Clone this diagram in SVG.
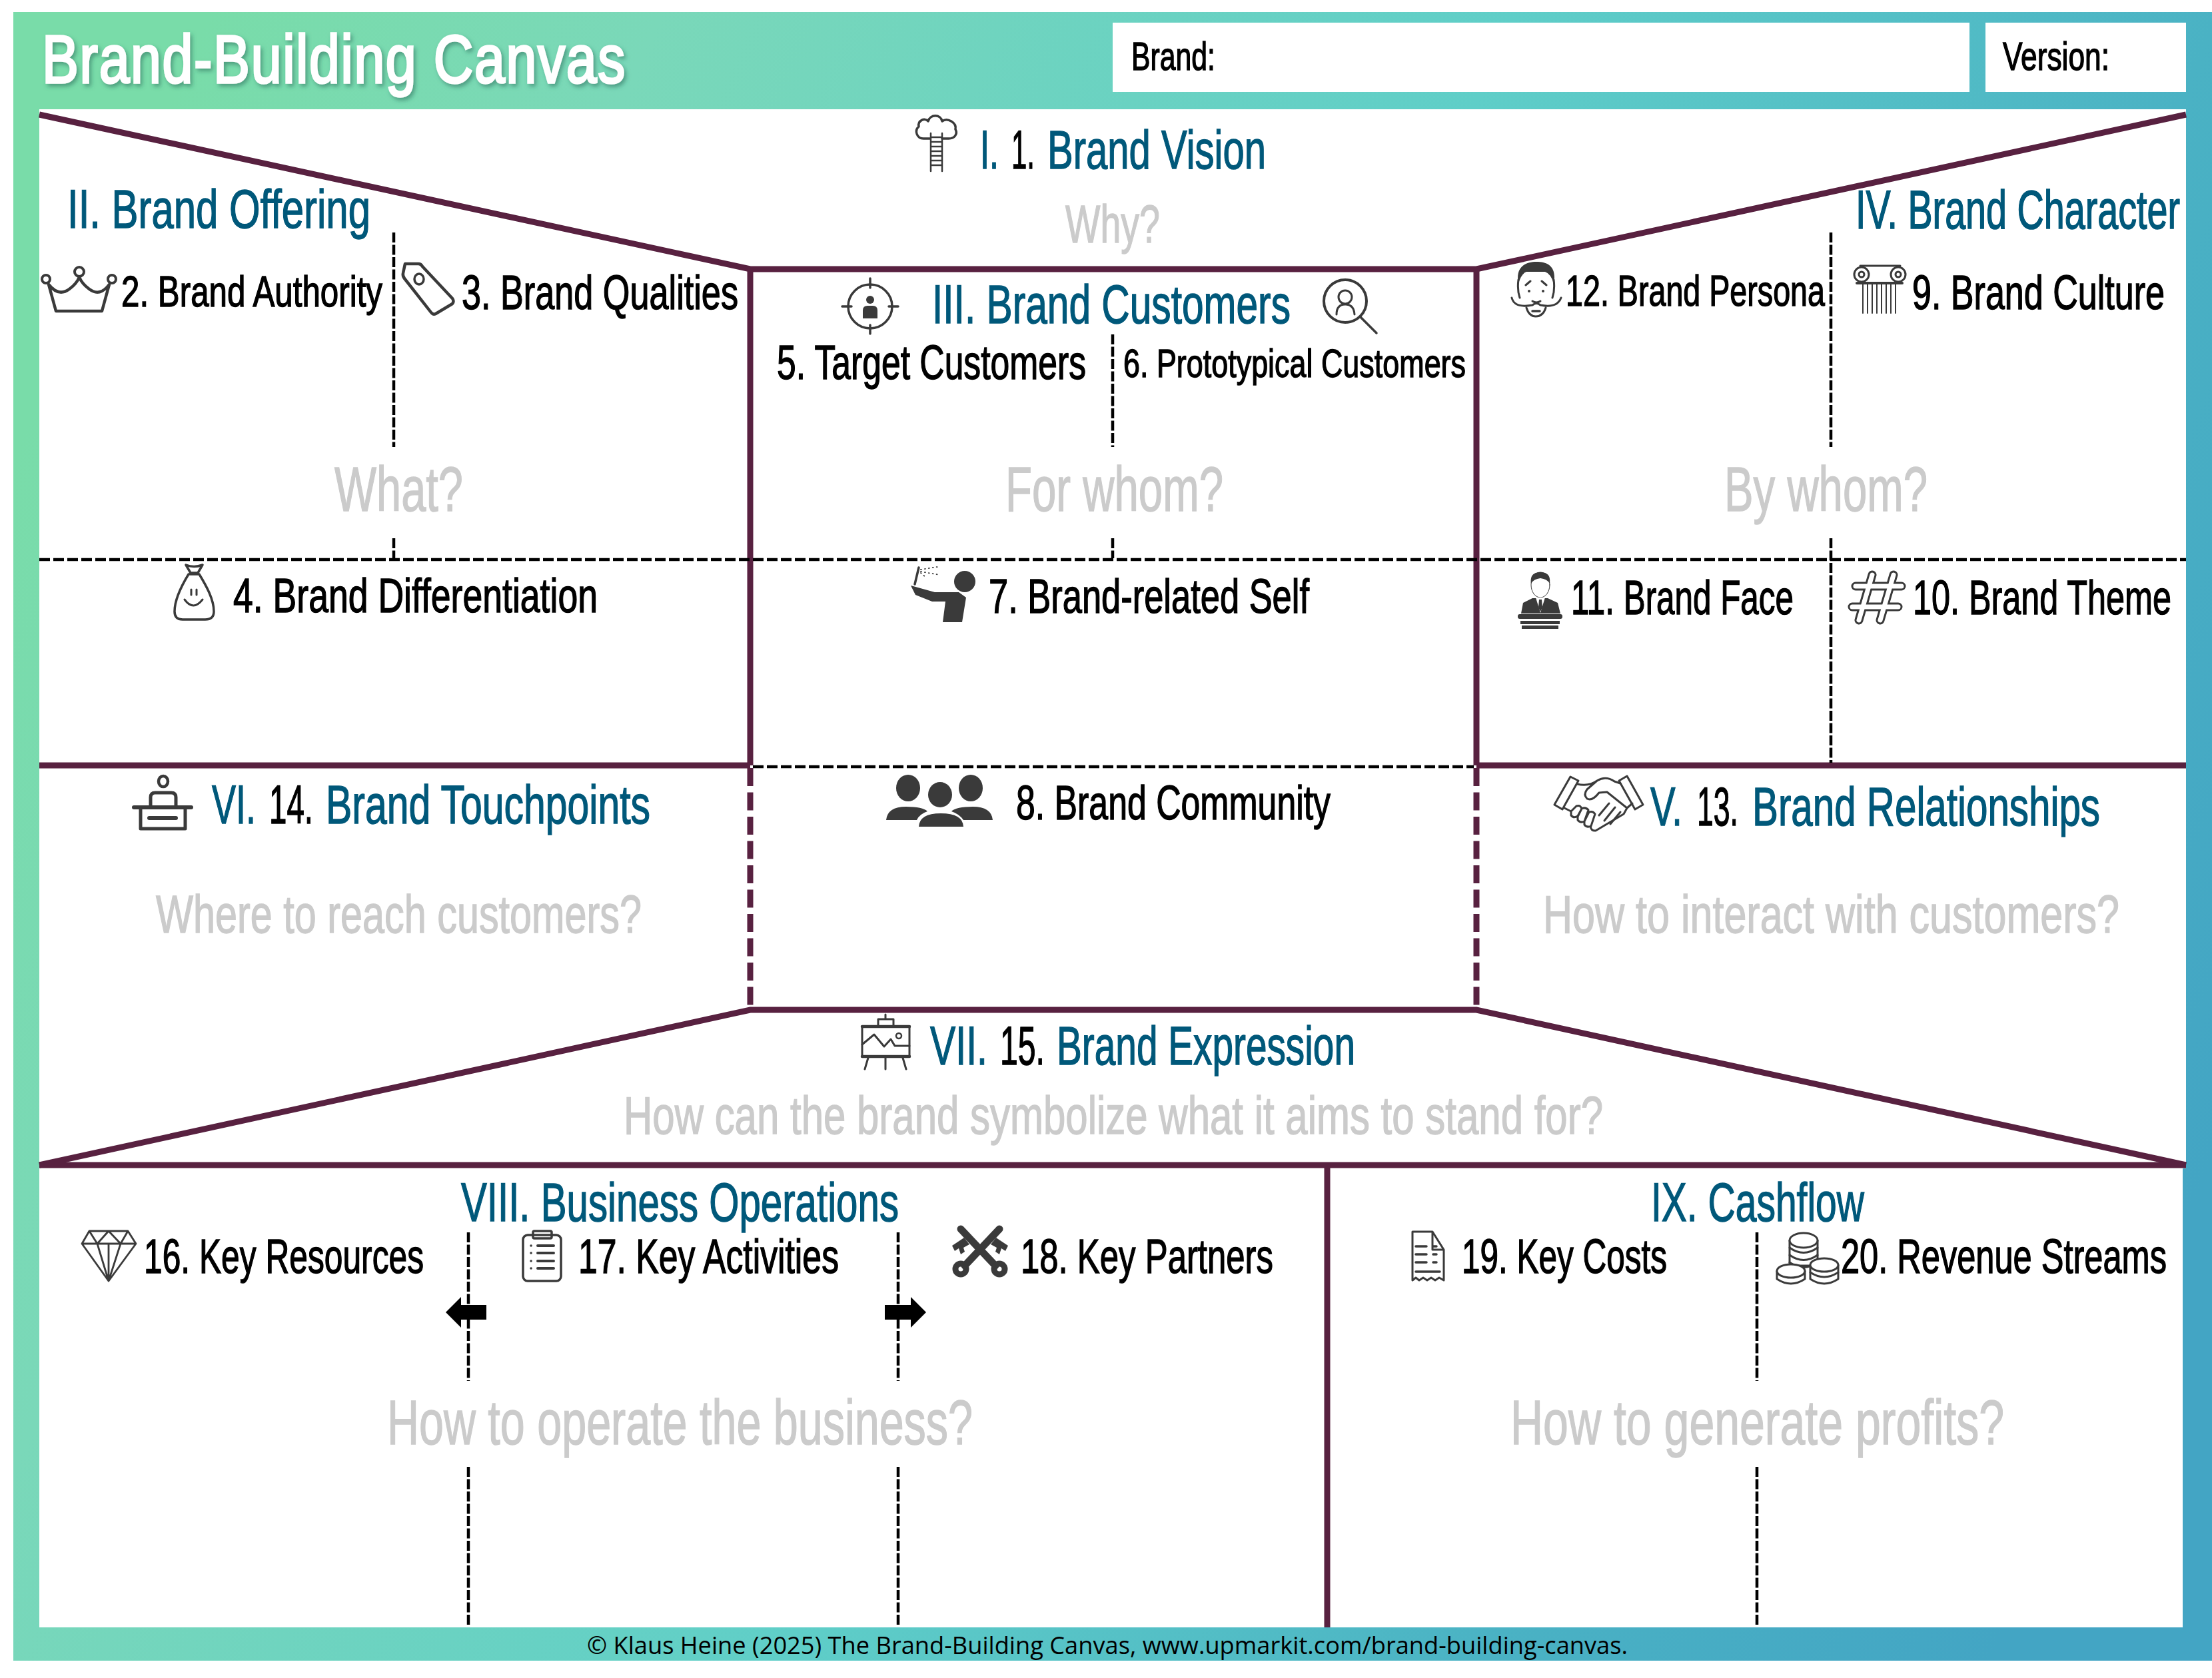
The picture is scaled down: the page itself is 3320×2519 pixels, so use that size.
<svg xmlns="http://www.w3.org/2000/svg" width="3320" height="2519" viewBox="0 0 3320 2519">
<defs>
<linearGradient id="bg" gradientUnits="userSpaceOnUse" x1="100" y1="500" x2="3250" y2="1900">
<stop offset="0" stop-color="#79dca9"/><stop offset="0.18" stop-color="#7ad8b9"/><stop offset="0.52" stop-color="#5fcec8"/><stop offset="0.8" stop-color="#4ab2c4"/><stop offset="1" stop-color="#43a5c4"/>
</linearGradient>
<filter id="shadow" x="-5%" y="-10%" width="110%" height="125%"><feDropShadow dx="3" dy="4" stdDeviation="3" flood-color="#2a6a58" flood-opacity="0.55"/></filter>
</defs>
<style>
text{font-family:"Liberation Sans Narrow","Liberation Sans",sans-serif;fill:#000;stroke:#000;stroke-width:1.1}
.h{font-size:63px;fill:#00587a;stroke:#00587a}
.k{fill:#000;stroke:#000}
.n{font-size:55px}
.s{font-size:50px}
.q{font-size:62px;fill:#cbcbcb;stroke:#cbcbcb}
.q2{font-size:73px;fill:#cbcbcb;stroke:#cbcbcb}
.t{font-size:46px}
.foot{font-family:"Open Sans",sans-serif;font-size:36px;stroke:none}
.title{font-size:102px;fill:#fff;stroke:#fff;stroke-width:3.4;letter-spacing:2px}
.p{stroke:#582140;stroke-width:9;fill:none}
.pd{stroke:#582140;stroke-width:9;fill:none;stroke-dasharray:27 9.5}
.d{stroke:#000;stroke-width:4.5;fill:none;stroke-dasharray:15 3.5}
.dh{stroke:#000;stroke-width:4.5;fill:none;stroke-dasharray:16 5}
.i{fill:none;stroke:#3a3a3a;stroke-width:3.5;stroke-linecap:round;stroke-linejoin:round}
.f{fill:#3a3a3a;stroke:none}
.w{fill:#fff;stroke:#3a3a3a;stroke-width:3;stroke-linejoin:round;stroke-linecap:round}
</style>

<g id="background">
<rect x="20" y="18" width="3300" height="2475" fill="url(#bg)"/>
<path d="M59 164H3281V1754H3276V2443H59Z" fill="#fff"/>
</g>

<g id="connectors">
<path class="p" d="M59 172L1126 404H2216L3281 172"/>
<path class="p" d="M1126 404V1149M2216 404V1149"/>
<path class="p" d="M59 1149H1126M2216 1149H3281"/>
<path class="pd" d="M1126 1153V1514M2216 1153V1514"/>
<path class="p" d="M59 1749L1126 1516H2216L3281 1749"/>
<path class="p" d="M59 1749H3281M1992 1749V2443"/>
<path class="dh" d="M59 840H3281M1130 1151H2212"/>
<path class="d" d="M591 349V671M591 808V838M1670 502V671M1670 808V838M2748 349V671M2748 808V1145"/>
<path class="d" d="M703 1850V2073M703 2202V2441M1348 1850V2073M1348 2202V2441M2637 1850V2073M2637 2202V2441"/>
<path id="arrow-left" d="M669 1970L692 1947V1959H730V1981H692V1993Z" fill="#000"/>
<path id="arrow-right" d="M1390 1970L1367 1947V1959H1328V1981H1367V1993Z" fill="#000"/>
</g>

<g id="header">
<text class="title" x="63" y="124" textLength="877" lengthAdjust="spacingAndGlyphs" filter="url(#shadow)">Brand-Building Canvas</text>
<rect x="1670" y="34" width="1286" height="104" fill="#fff"/>
<rect x="2980" y="34" width="301" height="104" fill="#fff"/>
<text class="t" transform="translate(1698 105) scale(1 1.3)" textLength="126" lengthAdjust="spacingAndGlyphs">Brand:</text>
<text class="t" transform="translate(3006 105) scale(1 1.3)" textLength="160" lengthAdjust="spacingAndGlyphs">Version:</text>
</g>

<g id="node-1">
<text class="h" transform="translate(1471 253) scale(1 1.3)"><tspan x="0" textLength="28" lengthAdjust="spacingAndGlyphs">I.</tspan> <tspan class="k" x="47" textLength="35" lengthAdjust="spacingAndGlyphs">1.</tspan> <tspan x="101" textLength="328" lengthAdjust="spacingAndGlyphs">Brand Vision</tspan></text>
<text class="q" transform="translate(1599 364) scale(1 1.3)" textLength="142" lengthAdjust="spacingAndGlyphs">Why?</text>
<path class="i" d="M1396 208H1386C1376 208 1372 196 1379 190C1377 181 1388 176 1393 182C1396 171 1412 171 1414 182C1422 176 1436 184 1434 194C1438 202 1432 208 1424 208H1414"/>
<path class="i" style="stroke-width:2.5" d="M1397 200V257M1414 200V257M1397 206H1414M1397 213H1414M1397 220H1414M1397 227H1414M1397 234H1414M1397 241H1414M1397 248H1414"/>
</g>

<g id="node-offering">
<text class="h" transform="translate(101 342) scale(1 1.3)" textLength="455" lengthAdjust="spacingAndGlyphs">II. Brand Offering</text>
<text class="q2" transform="translate(502 767) scale(1 1.3)" textLength="193" lengthAdjust="spacingAndGlyphs">What?</text>
</g>
<g id="node-2">
<text class="s" transform="translate(182 460) scale(1 1.3)" textLength="392" lengthAdjust="spacingAndGlyphs">2. Brand Authority</text>
<path class="i" style="stroke-width:4.5" d="M84 467H153L164 427Q150 446 134 434Q123 426 119 416Q115 426 104 434Q88 446 73 427Z"/>
<circle class="i" style="stroke-width:4" cx="69" cy="419" r="6"/><circle class="i" style="stroke-width:4" cx="119" cy="408" r="7"/><circle class="i" style="stroke-width:4" cx="168" cy="419" r="6"/>
</g>
<g id="node-3">
<text class="n" transform="translate(693 464) scale(1 1.3)" textLength="415" lengthAdjust="spacingAndGlyphs">3. Brand Qualities</text>
<path class="i" style="stroke-width:4.5" d="M608 396H628Q632 396 634 400L679 448Q682 452 679 456L654 471Q650 473 647 469L607 418Q604 414 605 410Z"/>
<ellipse class="i" cx="629" cy="419" rx="7" ry="8"/>
</g>
<g id="node-4">
<text class="n" transform="translate(350 919) scale(1 1.3)" textLength="547" lengthAdjust="spacingAndGlyphs">4. Brand Differentiation</text>
<path class="i" d="M283 862C272 880 262 900 262 918Q262 930 274 930H308Q321 930 321 918C321 900 310 880 299 862Z"/>
<path class="i" d="M279 848L286 860H297L304 848Q291 853 279 848Z"/>
<path class="i" style="stroke-width:3" d="M287 885V893M295 885V893M277 900Q290 918 304 900"/>
</g>

<g id="node-customers">
<text class="h" transform="translate(1399 485) scale(1 1.3)" textLength="538" lengthAdjust="spacingAndGlyphs">III. Brand Customers</text>
<text class="q2" transform="translate(1509 767) scale(1 1.3)" textLength="327" lengthAdjust="spacingAndGlyphs">For whom?</text>
</g>
<g id="node-5">
<text class="n" transform="translate(1166 569) scale(1 1.3)" textLength="464" lengthAdjust="spacingAndGlyphs">5. Target Customers</text>
<circle class="i" cx="1306" cy="460" r="33"/>
<path class="i" d="M1306 418V432M1306 488V501M1264 460H1278M1334 460H1348"/>
<circle class="f" cx="1306" cy="450" r="6"/>
<path class="f" d="M1295 478V466Q1295 459 1302 459H1310Q1317 459 1317 466V478Z"/>
</g>
<g id="node-6">
<text class="t" transform="translate(1686 566) scale(1 1.3)" textLength="514" lengthAdjust="spacingAndGlyphs">6. Prototypical Customers</text>
<circle class="i" style="stroke-width:4" cx="2019" cy="452" r="32"/>
<path class="i" d="M2042 476L2066 500"/>
<circle class="i" style="stroke-width:3" cx="2019" cy="446" r="10"/>
<path class="i" style="stroke-width:3" d="M2006 472Q2006 457 2019 457Q2032 457 2033 472"/>
</g>
<g id="node-7">
<text class="n" transform="translate(1484 920) scale(1 1.3)" textLength="481" lengthAdjust="spacingAndGlyphs">7. Brand-related Self</text>
<ellipse class="f" cx="1448" cy="873" rx="16" ry="16"/>
<path class="f" d="M1367 879L1403 889H1439L1450 897L1444 934H1415L1419 903H1399L1374 893Z"/>
<path class="i" d="M1373 877L1379 852"/>
<path class="i" style="stroke-width:1.8;stroke-dasharray:1 5" d="M1382 855L1407 851M1382 858L1410 863M1382 860L1390 867"/>
</g>
<g id="node-8">
<text class="n" transform="translate(1525 1230) scale(1 1.3)" textLength="472" lengthAdjust="spacingAndGlyphs">8. Brand Community</text>
<ellipse class="f" cx="1363" cy="1183" rx="18" ry="20"/><ellipse class="f" cx="1457" cy="1183" rx="18" ry="20"/><ellipse class="f" cx="1411" cy="1193" rx="18" ry="19"/>
<path class="f" d="M1330 1231Q1332 1211 1360 1211Q1385 1211 1392 1218Q1380 1222 1376 1231Z"/>
<path class="f" d="M1490 1231Q1488 1211 1460 1211Q1435 1211 1428 1218Q1440 1222 1446 1231Z"/>
<path class="f" d="M1379 1241Q1380 1221 1412 1221Q1445 1221 1446 1241Z"/>
</g>

<g id="node-character">
<text class="h" style="font-size:56px" transform="translate(2785 343) scale(1 1.46)" textLength="487" lengthAdjust="spacingAndGlyphs">IV. Brand Character</text>
<text class="q2" transform="translate(2588 767) scale(1 1.3)" textLength="305" lengthAdjust="spacingAndGlyphs">By whom?</text>
</g>
<g id="node-12">
<text class="s" transform="translate(2350 459) scale(1 1.3)" textLength="389" lengthAdjust="spacingAndGlyphs">12. Brand Persona</text>
<path class="f" d="M2279 426C2274 400 2290 393 2306 393C2323 393 2337 400 2332 426Q2328 411 2319 408H2291Q2283 411 2279 426Z"/>
<path class="i" style="stroke-width:3" d="M2279 420Q2277 435 2281 447M2332 420Q2334 435 2330 447M2297 422L2290 428M2314 422L2321 428M2300 452Q2306 456 2312 452"/>
<path class="i" style="stroke-width:3" d="M2269 447Q2273 463 2300 458Q2306 453 2312 458Q2337 463 2343 447M2291 462Q2295 475 2305 475Q2316 475 2320 462"/>
<circle class="f" cx="2295" cy="437" r="2"/><circle class="f" cx="2316" cy="437" r="2"/>
<path class="i" d="M2300 467H2311"/>
</g>
<g id="node-9">
<text class="n" transform="translate(2870 464) scale(1 1.3)" textLength="379" lengthAdjust="spacingAndGlyphs">9. Brand Culture</text>
<path class="i" style="stroke-width:3" d="M2792 399H2852"/>
<circle class="i" style="stroke-width:3" cx="2794" cy="412" r="11"/><circle class="i" style="stroke-width:3" cx="2794" cy="412" r="4"/>
<circle class="i" style="stroke-width:3" cx="2849" cy="412" r="11"/><circle class="i" style="stroke-width:3" cx="2849" cy="412" r="4"/>
<path class="i" style="stroke-width:4" d="M2787 425H2855"/>
<path class="i" style="stroke-width:2" d="M2796 427V470M2803 427V470M2810 427V470M2817 427V470M2824 427V470M2831 427V470M2838 427V470M2845 427V470"/>
</g>
<g id="node-10">
<text class="n" transform="translate(2871 922) scale(1 1.3)" textLength="388" lengthAdjust="spacingAndGlyphs">10. Brand Theme</text>
<path d="M2810 863L2790 931M2842 863L2822 931M2785 880H2854M2780 911H2849" fill="none" stroke="#3a3a3a" stroke-width="13" stroke-linecap="round"/>
<path d="M2810 863L2790 931M2842 863L2822 931M2785 880H2854M2780 911H2849" fill="none" stroke="#fff" stroke-width="7" stroke-linecap="round"/>
</g>
<g id="node-11">
<text class="n" transform="translate(2358 922) scale(1 1.3)" textLength="334" lengthAdjust="spacingAndGlyphs">11. Brand Face</text>
<path class="f" d="M2283 921L2286 905L2300 898H2323L2338 905L2342 921Z"/>
<ellipse class="w" cx="2312" cy="878" rx="14" ry="19" style="stroke-width:1"/>
<path class="f" d="M2298 876C2296 862 2304 859 2312 859C2320 859 2328 862 2326 876Q2322 869 2312 868Q2302 869 2298 876Z"/>
<path d="M2305 897H2319L2312 920Z" fill="#fff"/>
<path class="f" d="M2310 900H2314L2315 912L2312 918L2309 912Z"/>
<rect class="f" x="2278" y="922" width="67" height="7" rx="3"/><rect class="f" x="2282" y="932" width="59" height="5"/><rect class="f" x="2284" y="939" width="55" height="5"/>
</g>

<g id="node-14">
<text class="h" transform="translate(318 1236) scale(1 1.3)"><tspan x="0" textLength="66" lengthAdjust="spacingAndGlyphs">VI.</tspan> <tspan class="k" x="86" textLength="66" lengthAdjust="spacingAndGlyphs">14.</tspan> <tspan x="171" textLength="487" lengthAdjust="spacingAndGlyphs">Brand Touchpoints</tspan></text>
<text class="q" transform="translate(234 1400) scale(1 1.3)" textLength="729" lengthAdjust="spacingAndGlyphs">Where to reach customers?</text>
<ellipse class="i" style="stroke-width:4.5" cx="245" cy="1173" rx="7" ry="8"/>
<path class="i" style="stroke-width:5" d="M226 1210V1197Q226 1190 233 1190H257Q264 1190 264 1197V1210"/>
<path class="i" style="stroke-width:6" d="M201 1212H287"/>
<path class="i" style="stroke-width:5" d="M211 1214V1244H278V1214"/>
<path class="i" style="stroke-width:6" d="M224 1228H264"/>
</g>
<g id="node-13">
<text class="h" transform="translate(2477 1239) scale(1 1.3)"><tspan x="0" textLength="48" lengthAdjust="spacingAndGlyphs">V.</tspan> <tspan class="k" x="70" textLength="62" lengthAdjust="spacingAndGlyphs">13.</tspan> <tspan x="153" textLength="522" lengthAdjust="spacingAndGlyphs">Brand Relationships</tspan></text>
<text class="q" transform="translate(2316 1400) scale(1 1.3)" textLength="865" lengthAdjust="spacingAndGlyphs">How to interact with customers?</text>
<path class="i" style="stroke-width:3" d="M2357 1166L2369 1172L2345 1215L2333 1208ZM2442 1165L2430 1172L2454 1215L2466 1208Z"/>
<path class="i" style="stroke-width:3" d="M2367 1177Q2385 1181 2397 1172Q2410 1164 2423 1173L2432 1176M2397 1172L2382 1185Q2376 1193 2382 1199Q2390 1203 2400 1190L2412 1189L2442 1213L2450 1206M2442 1213L2437 1222L2395 1247Q2388 1248 2387 1240M2348 1213L2358 1218"/>
<path class="w" d="M2358 1218L2366 1210Q2372 1208 2374 1214L2368 1225Q2362 1229 2358 1224ZM2368 1226L2374 1214Q2380 1211 2384 1216L2378 1233Q2372 1236 2368 1231ZM2378 1233L2385 1219Q2391 1217 2394 1222L2388 1240Q2382 1243 2378 1238Z"/>
<path class="i" style="stroke-width:3" d="M2415 1206L2400 1224M2424 1212L2408 1232M2432 1219L2417 1237"/>
</g>

<g id="node-15">
<text class="h" transform="translate(1396 1598) scale(1 1.3)"><tspan x="0" textLength="86" lengthAdjust="spacingAndGlyphs">VII.</tspan> <tspan class="k" x="105" textLength="67" lengthAdjust="spacingAndGlyphs">15.</tspan> <tspan x="190" textLength="448" lengthAdjust="spacingAndGlyphs">Brand Expression</tspan></text>
<text class="q" transform="translate(936 1702) scale(1 1.3)" textLength="1470" lengthAdjust="spacingAndGlyphs">How can the brand symbolize what it aims to stand for?</text>
<path class="i" style="stroke-width:3" d="M1329 1523V1530M1318 1540V1530H1341V1540M1294 1541H1365V1586H1294ZM1303 1588L1298 1605M1329 1588V1605M1355 1588L1360 1605"/>
<path class="i" style="stroke-width:3" d="M1294 1568L1312 1553L1327 1571L1337 1560L1343 1570H1365"/>
<circle class="i" style="stroke-width:2.5" cx="1349" cy="1555" r="4"/>
<path class="i" style="stroke-width:4.5" d="M1294 1541H1365M1294 1586H1365"/>
</g>

<g id="node-operations">
<text class="h" transform="translate(692 1833) scale(1 1.3)" textLength="657" lengthAdjust="spacingAndGlyphs">VIII. Business Operations</text>
<text class="q2" transform="translate(581 2168) scale(1 1.3)" textLength="879" lengthAdjust="spacingAndGlyphs">How to operate the business?</text>
</g>
<g id="node-16">
<text class="n" transform="translate(216 1911) scale(1 1.3)" textLength="420" lengthAdjust="spacingAndGlyphs">16. Key Resources</text>
<path class="i" style="stroke-width:2.8" d="M134 1848H192L204 1867L163 1923L123 1867ZM123 1867H204M134 1848L146 1867L163 1848L181 1867L192 1848M146 1867L163 1923L181 1867M163 1867V1923"/>
</g>
<g id="node-17">
<text class="n" transform="translate(868 1911) scale(1 1.3)" textLength="391" lengthAdjust="spacingAndGlyphs">17. Key Activities</text>
<rect class="i" x="785" y="1854" width="57" height="69" rx="7"/>
<rect class="i" x="800" y="1848" width="28" height="11" rx="2"/>
<path class="i" style="stroke-width:4" d="M807 1870H831M807 1881H831M807 1893H831M807 1904H831"/>
<path class="i" style="stroke-width:3.5" d="M797 1870H797.1M797 1881H797.1M797 1893H797.1M797 1904H797.1"/>
</g>
<g id="node-18">
<text class="n" transform="translate(1532 1911) scale(1 1.3)" textLength="379" lengthAdjust="spacingAndGlyphs">18. Key Partners</text>
<path d="M1448 1900L1500 1845M1494 1900L1442 1845" stroke="#3a3a3a" stroke-width="11" fill="none" stroke-linecap="round"/>
<circle class="i" style="stroke-width:9" cx="1442" cy="1905" r="8"/><circle class="i" style="stroke-width:9" cx="1500" cy="1905" r="8"/>
<path class="f" d="M1447 1858L1429 1870L1433 1878L1439 1874L1442 1883L1448 1879L1446 1873L1455 1868ZM1495 1858L1513 1870L1509 1878L1503 1874L1500 1883L1494 1879L1496 1873L1487 1868Z"/>
</g>

<g id="node-cashflow">
<text class="h" transform="translate(2478 1833) scale(1 1.3)" textLength="320" lengthAdjust="spacingAndGlyphs">IX. Cashflow</text>
<text class="q2" transform="translate(2267 2168) scale(1 1.3)" textLength="741" lengthAdjust="spacingAndGlyphs">How to generate profits?</text>
</g>
<g id="node-19">
<text class="n" transform="translate(2194 1911) scale(1 1.3)" textLength="308" lengthAdjust="spacingAndGlyphs">19. Key Costs</text>
<path class="i" style="stroke-width:3" d="M2120 1922V1849H2150L2167 1876V1922L2160 1918L2154 1922L2148 1918L2142 1922L2136 1918L2130 1922L2125 1918ZM2150 1849V1876H2167"/>
<path class="i" style="stroke-width:3.5" d="M2125 1871H2141M2125 1883H2141M2125 1895H2141M2151 1871H2156M2151 1883H2156M2151 1895H2156M2125 1909H2161"/>
</g>
<g id="node-20">
<text class="n" transform="translate(2763 1911) scale(1 1.3)" textLength="489" lengthAdjust="spacingAndGlyphs">20. Revenue Streams</text>
<path class="w" d="M2686 1862V1900H2728V1862Z"/>
<ellipse class="w" cx="2707" cy="1862" rx="21" ry="11"/>
<path class="i" style="stroke-width:3" d="M2686 1873Q2707 1888 2728 1873M2686 1884Q2707 1899 2728 1884M2686 1895Q2707 1910 2728 1895"/>
<path class="w" d="M2667 1908V1920Q2688 1934 2709 1920V1908Z"/>
<ellipse class="w" cx="2688" cy="1908" rx="21" ry="10"/>
<path class="w" d="M2717 1899V1920Q2738 1934 2759 1920V1899Z"/>
<ellipse class="w" cx="2738" cy="1899" rx="21" ry="10"/>
<path class="i" style="stroke-width:3" d="M2717 1910Q2738 1924 2759 1910"/>
</g>

<g id="footer">
<text class="foot" x="881" y="2483" textLength="1562" lengthAdjust="spacingAndGlyphs">© Klaus Heine (2025) The Brand-Building Canvas, www.upmarkit.com/brand-building-canvas.</text>
</g>
</svg>
